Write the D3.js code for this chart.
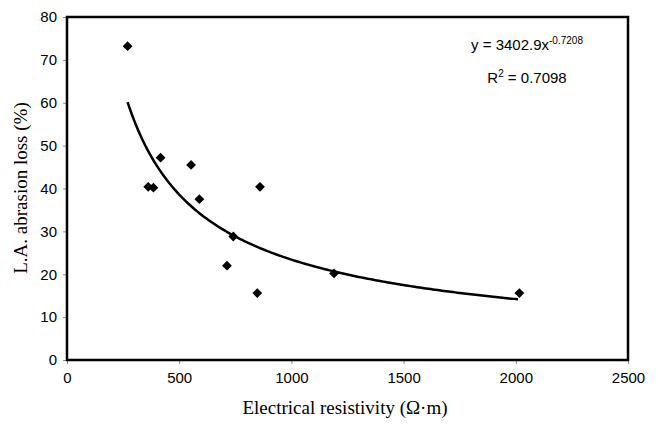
<!DOCTYPE html>
<html>
<head>
<meta charset="utf-8">
<script src="https://cdn.jsdelivr.net/npm/d3@7"></script>
<style>
  body { margin: 0; background: #fff; }
  svg { display: block; }
  .tick text { font-family: "Liberation Sans", Arial, sans-serif; font-size: 15px; fill: #000; }
</style>
</head>
<body>
<svg id="chart" width="658" height="425"></svg>
<script>
const resistivity = [270, 362, 385, 417, 553, 590, 713, 741, 848, 860, 1190, 2016]
const abrasionLoss = [73.2, 40.4, 40.2, 47.2, 45.5, 37.5, 22.0, 28.8, 15.6, 40.4, 20.2, 15.6]
const xTicks = [0, 500, 1000, 1500, 2000, 2500]
const yTicks = [0, 10, 20, 30, 40, 50, 60, 70, 80]
// power trendline y = a * x^b, as printed on the chart
const fitA = 3402.9,
    fitB = -0.7208

const svg = d3.select('#chart')
const plotL = 67, plotR = 628, plotT = 17, plotB = 360

const x = d3.scaleLinear().domain([0, 2500]).range([plotL, plotR])
const y = d3.scaleLinear().domain([0, 80]).range([plotB, plotT])

// axes
const xAxis = svg.append('g')
    .attr('transform', `translate(0,${plotB})`)
    .call(d3.axisBottom(x).tickValues(xTicks).tickFormat(d3.format('d')).tickSize(4).tickPadding(8))
xAxis.select('.domain').remove()
xAxis.selectAll('.tick line').attr('stroke', '#888')

const yAxis = svg.append('g')
    .attr('transform', `translate(${plotL},0)`)
    .call(d3.axisLeft(y).tickValues(yTicks).tickFormat(d3.format('d')).tickSize(4).tickPadding(6))
yAxis.select('.domain').remove()
yAxis.selectAll('.tick line').attr('stroke', '#888')

// plot frame
svg.append('rect')
    .attr('x', plotL)
    .attr('y', plotT)
    .attr('width', plotR - plotL)
    .attr('height', plotB - plotT)
    .attr('fill', 'none')
    .attr('stroke', '#000')
    .attr('stroke-width', 2.5)

// trendline over the data's x extent
const [xMin, xMax] = d3.extent(resistivity)
const fitPts = d3.range(xMin, xMax + 1, 10).map(v => [v, fitA * Math.pow(v, fitB)])
svg.append('path')
    .datum(fitPts)
    .attr('fill', 'none')
    .attr('stroke', '#000')
    .attr('stroke-width', 2.5)
    .attr('d', d3.line().x(d => x(d[0])).y(d => y(d[1])))

// diamond markers
const diamond = d3.symbol(d3.symbolSquare, 48)
svg.append('g')
    .selectAll('path')
    .data(resistivity)
    .join('path')
    .attr('d', diamond)
    .attr('fill', '#000')
    .attr('transform', (d, i) => `translate(${x(d)},${y(abrasionLoss[i])}) rotate(45)`)

// equation text
const eq = svg.append('text')
    .attr('x', 527)
    .attr('y', 50)
    .attr('text-anchor', 'middle')
    .style('font-family', '"Liberation Sans", Arial, sans-serif')
    .style('font-size', '15px')
eq.append('tspan').text('y = 3402.9x')
eq.append('tspan').attr('dy', -6).style('font-size', '10px').text('-0.7208')

const r2 = svg.append('text')
    .attr('x', 527)
    .attr('y', 83)
    .attr('text-anchor', 'middle')
    .style('font-family', '"Liberation Sans", Arial, sans-serif')
    .style('font-size', '15px')
r2.append('tspan').text('R')
r2.append('tspan').attr('dy', -6).style('font-size', '10px').text('2')
r2.append('tspan').attr('dy', 6).text(' = 0.7098')

// axis titles
svg.append('text')
    .attr('x', 345)
    .attr('y', 414)
    .attr('text-anchor', 'middle')
    .style('font-family', '"Liberation Serif", "Times New Roman", serif')
    .style('font-size', '19px')
    .text('Electrical resistivity (Ω·m)')

svg.append('text')
    .attr('transform', 'translate(27,188) rotate(-90)')
    .attr('text-anchor', 'middle')
    .style('font-family', '"Liberation Serif", "Times New Roman", serif')
    .style('font-size', '19px')
    .text('L.A. abrasion loss (%)')
</script>
</body>
</html>
